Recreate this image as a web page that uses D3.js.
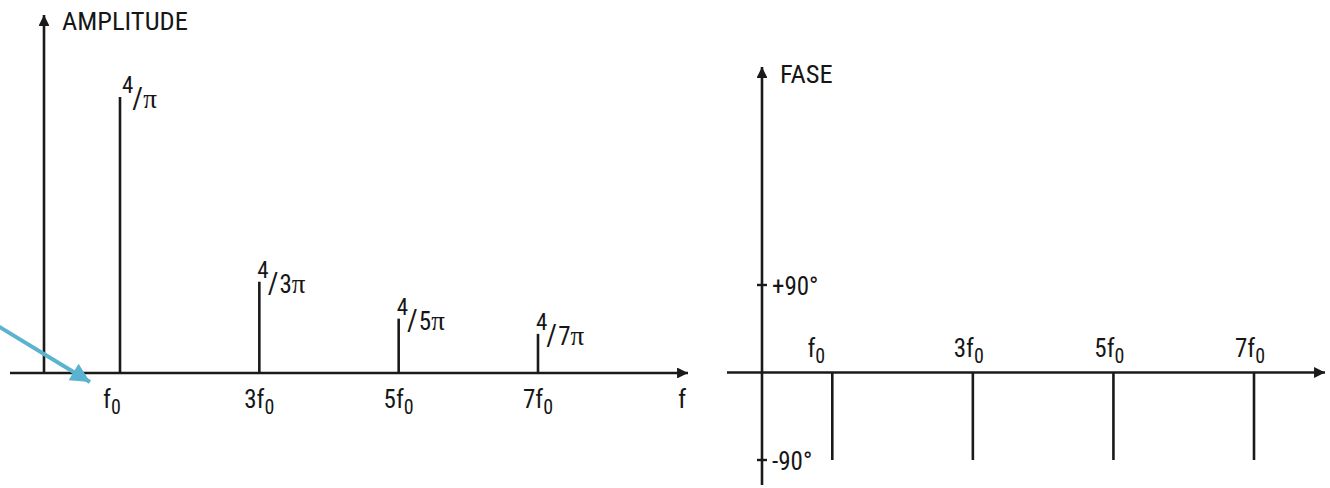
<!DOCTYPE html>
<html>
<head>
<meta charset="utf-8">
<script src="https://cdn.jsdelivr.net/npm/d3@7"></script>
<style>
  body { margin: 0; background: #fff; }
  text { font-family: "Roboto Condensed", "Liberation Sans Narrow", "Liberation Sans", sans-serif; fill: #161616; }
  .pi { font-family: "Liberation Serif", "DejaVu Serif", serif; }
</style>
</head>
<body>
<div id="chart"></div>
<script>

// data
const harmonics = [1, 3, 5, 7];
const harmonicPrefix = ["", "3", "5", "7"];
const amplitudes = [1.27, 0.42, 0.25, 0.18];
const amplitudeDen = ["", "3", "5", "7"];
const phases = [-90, -90, -90, -90];
const phaseTicks = [90, -90];
const phaseTickLabels = ["+90°", "-90°"];

const width = 1330, height = 488;
const ink = "#1a1a1a";

const svg = d3.select("#chart")
    .append("svg")
    .attr("width", width)
    .attr("height", height);

const defs = svg.append("defs");
defs.append("marker")
    .attr("id", "head")
    .attr("viewBox", "0 0 10 10")
    .attr("refX", 10).attr("refY", 5)
    .attr("markerWidth", 5).attr("markerHeight", 4.2)
    .attr("markerUnits", "strokeWidth")
    .attr("orient", "auto")
    .append("path")
    .attr("d", "M0,0L10,5L0,10Z")
    .attr("fill", ink);

defs.append("marker")
    .attr("id", "bluehead")
    .attr("viewBox", "0 0 10 10")
    .attr("refX", 10).attr("refY", 5)
    .attr("markerWidth", 5.5).attr("markerHeight", 4.8)
    .attr("markerUnits", "strokeWidth")
    .attr("orient", "auto")
    .append("path")
    .attr("d", "M0,0L10,5L0,10Z")
    .attr("fill", "#5ab3cf");

// ---------- amplitude spectrum ----------

const xA = d3.scaleLinear().domain([1, 7]).range([120, 538]);
const yA = d3.scaleLinear().domain([0, 1.27]).range([373, 97]);

const left = svg.append("g");

// axes
left.append("line")
    .attr("x1", 44).attr("x2", 44)
    .attr("y1", yA(0)).attr("y2", 15)
    .attr("stroke", ink).attr("stroke-width", 2.6)
    .attr("marker-end", "url(#head)");

left.append("line")
    .attr("x1", 10).attr("x2", 688)
    .attr("y1", yA(0)).attr("y2", yA(0))
    .attr("stroke", ink).attr("stroke-width", 2.6)
    .attr("marker-end", "url(#head)");

left.append("text")
    .attr("x", 62).attr("y", 30)
    .style("font-size", "26.5px")
    .text("AMPLITUDE");

left.append("text")
    .attr("x", 678).attr("y", 408)
    .style("font-size", "26px")
    .text("f");

const amp = harmonics.map((h, i) => ({ h, a: amplitudes[i], den: amplitudeDen[i], pre: harmonicPrefix[i] }));

left.selectAll("line.bar")
    .data(amp)
    .join("line")
    .attr("class", "bar")
    .attr("x1", d => xA(d.h)).attr("x2", d => xA(d.h))
    .attr("y1", yA(0)).attr("y2", d => yA(d.a))
    .attr("stroke", ink).attr("stroke-width", 2.6);

// 4/nπ labels
const vlab = left.selectAll("text.val")
    .data(amp)
    .join("text")
    .attr("class", "val")
    .attr("x", d => xA(d.h) + (d.h === 1 ? 2 : -2))
    .attr("y", d => yA(d.a) + 11)
    .style("font-size", "25px");
vlab.append("tspan").attr("dy", -15).style("font-size", "23px").text("4");
vlab.append("tspan").attr("dy", 15).attr("dx", -1).style("font-size", "29px").text("/");
vlab.append("tspan").attr("dx", 1).text(d => d.den);
vlab.append("tspan").attr("class", "pi").style("font-size", "27px").text("π");

// frequency labels under axis
const flab = left.selectAll("text.freq")
    .data(amp)
    .join("text")
    .attr("class", "freq")
    .attr("x", d => xA(d.h) + (d.h === 1 ? -8 : 0))
    .attr("y", 408)
    .attr("text-anchor", "middle")
    .style("font-size", "25px");
flab.append("tspan").text(d => d.pre + "f");
flab.append("tspan").attr("dy", 6).style("font-size", "20px").text("0");

// blue pointer arrow
svg.append("line")
    .attr("x1", -2).attr("y1", 326)
    .attr("x2", 90).attr("y2", 382)
    .attr("stroke", "#5ab3cf").attr("stroke-width", 4)
    .attr("marker-end", "url(#bluehead)");

// ---------- phase spectrum ----------

const xP = d3.scaleLinear().domain([0, 7]).range([762, 1254]);
const yP = d3.scaleLinear().domain([-90, 90]).range([460, 285]);

const right = svg.append("g");

right.append("line")
    .attr("x1", xP(0)).attr("x2", xP(0))
    .attr("y1", 485).attr("y2", 67)
    .attr("stroke", ink).attr("stroke-width", 2.6)
    .attr("marker-end", "url(#head)");

right.append("line")
    .attr("x1", 727).attr("x2", 1325)
    .attr("y1", yP(0)).attr("y2", yP(0))
    .attr("stroke", ink).attr("stroke-width", 2.6)
    .attr("marker-end", "url(#head)");

right.append("text")
    .attr("x", 780).attr("y", 83)
    .style("font-size", "26.5px")
    .text("FASE");

right.selectAll("line.tick")
    .data(phaseTicks)
    .join("line")
    .attr("class", "tick")
    .attr("x1", xP(0) - 5).attr("x2", xP(0) + 5)
    .attr("y1", d => yP(d)).attr("y2", d => yP(d))
    .attr("stroke", ink).attr("stroke-width", 2.4);

right.selectAll("text.tick")
    .data(phaseTicks)
    .join("text")
    .attr("class", "tick")
    .attr("x", xP(0) + 10)
    .attr("y", d => yP(d) + 10)
    .style("font-size", "25px")
    .text((d, i) => phaseTickLabels[i]);

const ph = harmonics.map((h, i) => ({ h, p: phases[i], pre: harmonicPrefix[i] }));

right.selectAll("line.bar")
    .data(ph)
    .join("line")
    .attr("class", "bar")
    .attr("x1", d => xP(d.h)).attr("x2", d => xP(d.h))
    .attr("y1", yP(0)).attr("y2", d => yP(d.p))
    .attr("stroke", ink).attr("stroke-width", 2.6);

const plab = right.selectAll("text.freq")
    .data(ph)
    .join("text")
    .attr("class", "freq")
    .attr("x", d => xP(d.h) + (d.h === 1 ? -16 : -4))
    .attr("y", 357)
    .attr("text-anchor", "middle")
    .style("font-size", "25px");
plab.append("tspan").text(d => d.pre + "f");
plab.append("tspan").attr("dy", 6).style("font-size", "20px").text("0");

</script>
</body>
</html>
